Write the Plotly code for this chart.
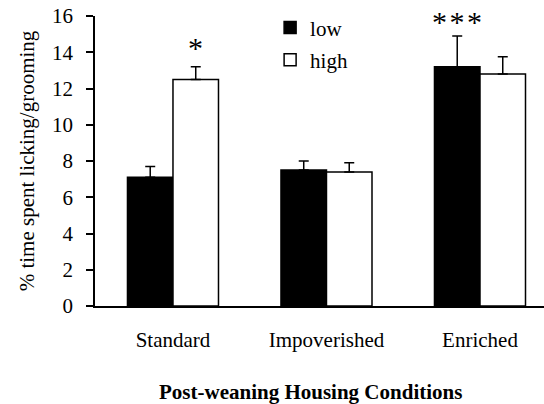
import plotly.graph_objects as go

categories = ["Standard", "Impoverished", "Enriched"]
low_vals = [7.1, 7.5, 13.2]
low_err = [0.6, 0.5, 1.7]
high_vals = [12.5, 7.4, 12.8]
high_err = [0.7, 0.5, 0.95]
y_ticks = [0, 2, 4, 6, 8, 10, 12, 14, 16]
signif = [("Standard", "high", "*"), ("Enriched", "low", "*\u200a*\u200a*")]

FONT = "Liberation Serif"
STAR_YSHIFT = {"*": 1}

fig = go.Figure()
fig.add_trace(go.Bar(
    name="low", x=categories, y=low_vals, legendgroup="low",
    marker=dict(color="black", line=dict(color="black", width=1.5)),
    error_y=dict(type="data", array=low_err, arrayminus=[0]*3, symmetric=False,
                 color="black", thickness=1.5, width=5),
))
fig.add_trace(go.Bar(
    name="high", x=categories, y=high_vals, legendgroup="high",
    marker=dict(color="white", line=dict(color="black", width=1.5)),
    error_y=dict(type="data", array=high_err, arrayminus=[0]*3, symmetric=False,
                 color="black", thickness=1.5, width=5),
))

vals = {"low": (low_vals, low_err), "high": (high_vals, high_err)}
for cat, grp, txt in signif:
    i = categories.index(cat)
    v, e = vals[grp]
    fig.add_annotation(
        x=cat, y=v[i] + e[i], xref="x", yref="y",
        xshift=-23 if grp == "low" else 23, yshift=STAR_YSHIFT.get(txt, -4),
        text=txt, showarrow=False, yanchor="bottom",
        font=dict(family=FONT, size=30, color="black"),
    )

fig.add_annotation(
    text="<b>Post-weaning Housing Conditions</b>", xref="paper", yref="paper",
    x=0.481, y=-0.295, showarrow=False, xanchor="center", yanchor="middle",
    font=dict(family=FONT, size=21, color="black"),
)

fig.update_layout(
    width=544, height=404,
    margin=dict(l=95, r=0, t=16, b=98),
    paper_bgcolor="white", plot_bgcolor="white",
    barmode="group", bargap=0.407, bargroupgap=0,
    font=dict(family=FONT, size=20, color="black"),
    showlegend=True,
    legend=dict(x=0.39, y=1.03, xanchor="left", yanchor="top",
                traceorder="grouped", tracegroupgap=2,
                font=dict(family=FONT, size=21, color="black"),
                bgcolor="rgba(0,0,0,0)"),
    xaxis=dict(
        range=[-0.508, 2.417], showline=True, linecolor="black", linewidth=1.5,
        ticks="", ticklabelstandoff=14, showgrid=False, zeroline=False,
        tickfont=dict(family=FONT, size=21, color="black"),
    ),
    yaxis=dict(
        range=[0, 16], tickvals=y_ticks, showline=True, linecolor="black",
        linewidth=1.5, ticks="outside", ticklen=7, tickwidth=1.5, tickcolor="black",
        ticklabelstandoff=9, showgrid=False, zeroline=False,
        tickfont=dict(family=FONT, size=21, color="black"),
        title=dict(text="% time spent licking/grooming", standoff=12,
                   font=dict(family=FONT, size=21, color="black")),
    ),
)

fig.write_html("out.html")
